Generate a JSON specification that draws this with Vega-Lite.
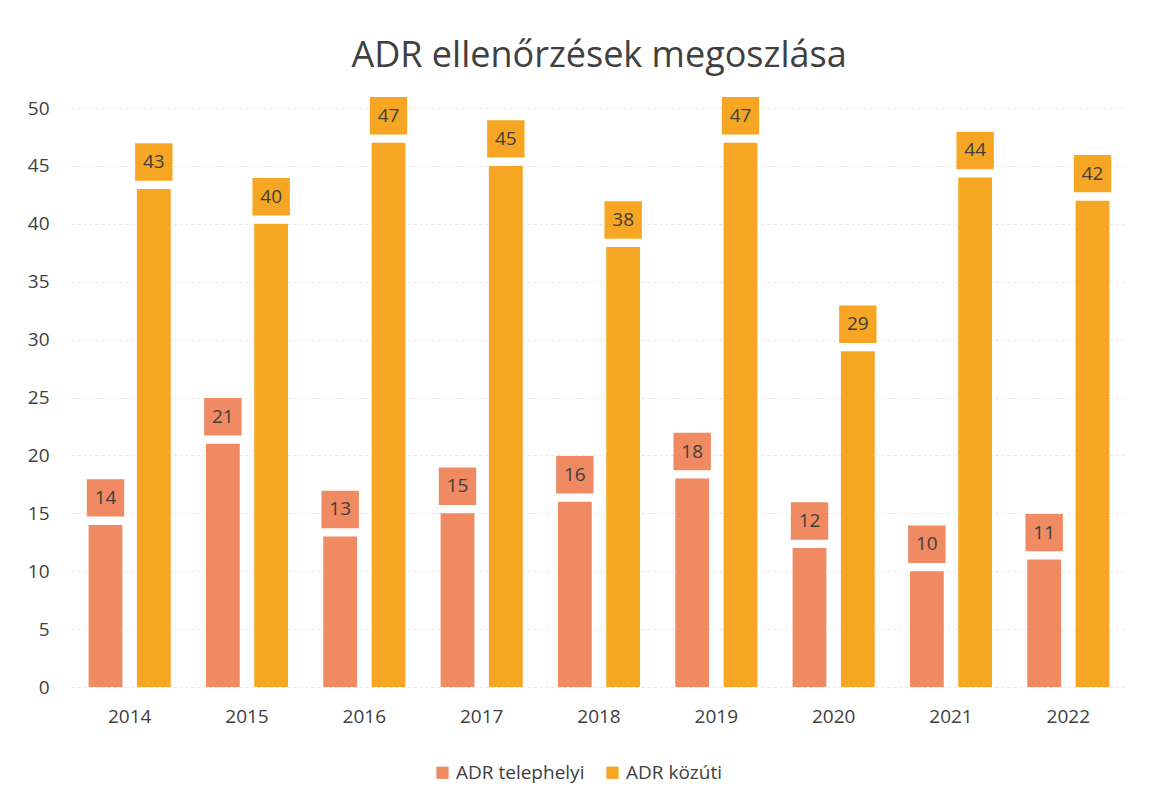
{
  "$schema": "https://vega.github.io/schema/vega-lite/v6.json",
  "width": 1056,
  "height": 579,
  "padding": {"left": 27, "right": 10, "top": 38, "bottom": 10},
  "background": "white",
  "title": {"text": "ADR ellenőrzések megoszlása", "fontSize": 36, "font": "Open Sans", "fontWeight": "normal", "color": "#404040", "offset": 22},
  "data": {"values": [
    {"year": "2014", "series": "ADR telephelyi", "value": 14},
    {"year": "2014", "series": "ADR közúti", "value": 43},
    {"year": "2015", "series": "ADR telephelyi", "value": 21},
    {"year": "2015", "series": "ADR közúti", "value": 40},
    {"year": "2016", "series": "ADR telephelyi", "value": 13},
    {"year": "2016", "series": "ADR közúti", "value": 47},
    {"year": "2017", "series": "ADR telephelyi", "value": 15},
    {"year": "2017", "series": "ADR közúti", "value": 45},
    {"year": "2018", "series": "ADR telephelyi", "value": 16},
    {"year": "2018", "series": "ADR közúti", "value": 38},
    {"year": "2019", "series": "ADR telephelyi", "value": 18},
    {"year": "2019", "series": "ADR közúti", "value": 47},
    {"year": "2020", "series": "ADR telephelyi", "value": 12},
    {"year": "2020", "series": "ADR közúti", "value": 29},
    {"year": "2021", "series": "ADR telephelyi", "value": 10},
    {"year": "2021", "series": "ADR közúti", "value": 44},
    {"year": "2022", "series": "ADR telephelyi", "value": 11},
    {"year": "2022", "series": "ADR közúti", "value": 42}
  ]},
  "encoding": {
    "x": {"field": "year", "type": "nominal", "scale": {"paddingInner": 0.3, "paddingOuter": 0.15},
      "axis": {"title": null, "labelAngle": 0, "domain": false, "ticks": false, "labelFontSize": 19, "labelColor": "#404040", "labelFont": "Open Sans", "labelPadding": 20}},
    "xOffset": {"field": "series", "type": "nominal", "sort": ["ADR telephelyi", "ADR közúti"], "scale": {"paddingInner": 0.3}},
    "y": {"field": "value", "type": "quantitative", "scale": {"domain": [0, 50]},
      "axis": {"title": null, "values": [0,5,10,15,20,25,30,35,40,45,50], "domain": false, "ticks": false, "labelFontSize": 19, "labelColor": "#404040", "labelFont": "Open Sans", "labelPadding": 22, "gridColor": "#e6e6e6", "gridDash": [3, 3]}},
    "color": {"field": "series", "type": "nominal", "sort": ["ADR telephelyi", "ADR közúti"],
      "scale": {"domain": ["ADR telephelyi", "ADR közúti"], "range": ["#EF8A62", "#F6A623"]},
      "legend": {"orient": "none", "legendX": 362, "legendY": 655, "direction": "horizontal", "title": null, "symbolType": "square", "labelFontSize": 19, "labelColor": "#404040", "labelFont": "Open Sans", "symbolSize": 150, "columnPadding": 18}}
  },
  "layer": [
    {"mark": {"type": "bar"}},
    {"mark": {"type": "point", "shape": "square", "filled": true, "opacity": 1, "size": 1400, "yOffset": -27}},
    {"mark": {"type": "text", "fontSize": 19, "font": "Open Sans", "yOffset": -27, "baseline": "middle"},
     "encoding": {"text": {"field": "value", "type": "quantitative"}, "color": {"value": "#404040"}}}
  ],
  "config": {"view": {"stroke": null}}
}
